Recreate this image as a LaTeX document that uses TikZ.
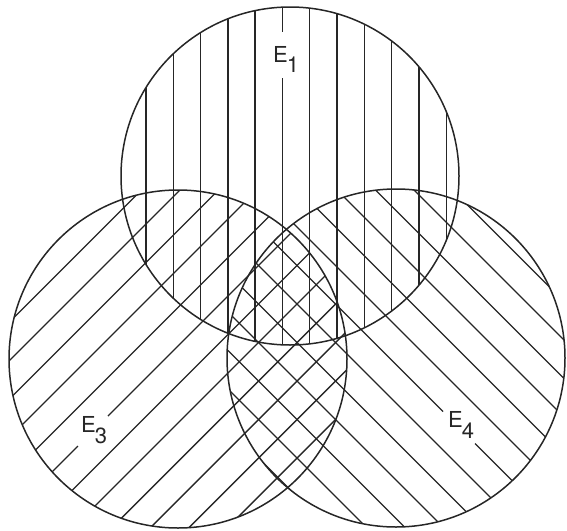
\documentclass[tikz,border=0pt]{standalone}
\usepackage{fontspec}
\setmainfont{TeX Gyre Heros}
\begin{document}
\begin{tikzpicture}[x=1pt,y=-1pt,
  ring/.style={draw=black!85,line width=1.5pt},
  hatch/.style={draw=black!85,line width=1.4pt},
  lbl/.style={inner sep=0pt,anchor=base west,font=\fontsize{22}{22}\selectfont,text=black!85}]
\useasboundingbox (0,0) rectangle (567,530);
% E1 vertical hatching
\begin{scope}
  \clip (290,176) circle[radius=169];
  \foreach \k in {-6,...,6}{
    \pgfmathsetmacro\xx{282.4+27.3*\k}
    \ifnum\k=0
      \draw[hatch] (\xx,0) -- (\xx,32);
      \draw[hatch] (\xx,78) -- (\xx,360);
    \else
      \draw[hatch] (\xx,0) -- (\xx,360);
    \fi
  }
\end{scope}
% E3 hatching, lines x+y=c
\begin{scope}
  \clip (178,359) circle[radius=169];
  \foreach \k in {-6,...,7}{
    \pgfmathsetmacro\cc{524+38.5*\k}
    \ifnum\k=0
      \draw[hatch] (0,\cc) -- (78,{\cc-78});
      \draw[hatch] (108,{\cc-108}) -- (600,{\cc-600});
    \else
      \draw[hatch] (-20,{\cc+20}) -- (600,{\cc-600});
    \fi
  }
\end{scope}
% E4 hatching, lines y-x=d
\begin{scope}
  \clip (396,358) circle[radius=169];
  \foreach \k in {-7,...,6}{
    \pgfmathsetmacro\dd{-31.5+38.5*\k}
    \ifnum\k=0
      \draw[hatch] (200,{\dd+200}) -- (443,{\dd+443});
      \draw[hatch] (475,{\dd+475}) -- (600,{\dd+600});
    \else
      \draw[hatch] (200,{\dd+200}) -- (600,{\dd+600});
    \fi
  }
\end{scope}
% circles
\draw[ring] (290,176) circle[radius=169];
\draw[ring] (178,359) circle[radius=169];
\draw[ring] (396,358) circle[radius=169];
% labels
\node[lbl] (e1) at (273,62) {E\kern-1pt\raisebox{-10pt}{1}};
\node[lbl] (e3) at (81,432) {E\kern-1pt\raisebox{-11pt}{3}};
\node[lbl] (e4) at (448,427) {E\kern-1pt\raisebox{-11pt}{4}};
\end{tikzpicture}
\end{document}
